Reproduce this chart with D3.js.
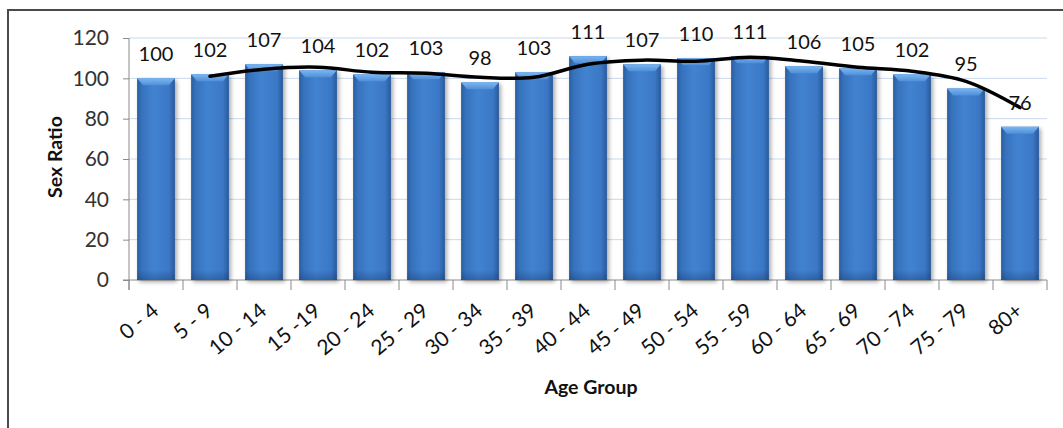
<!DOCTYPE html>
<html>
<head>
<meta charset="utf-8">
<script src="https://cdn.jsdelivr.net/npm/d3@7"></script>
<style>
  body { margin: 0; background: #fff; }
  svg { display: block; }
</style>
</head>
<body>
<svg id="chart" width="1063" height="428"></svg>
<script>
// Sex ratio (males per 100 females) by age group
const ageGroups = ["0 - 4", "5 - 9", "10 - 14", "15 -19", "20 - 24", "25 - 29", "30 - 34", "35 - 39",
  "40 - 44", "45 - 49", "50 - 54", "55 - 59", "60 - 64", "65 - 69", "70 - 74", "75 - 79", "80+"];
const sexRatio = [100, 102, 107, 104, 102, 103, 98, 103, 111, 107, 110, 111, 106, 105, 102, 95, 76];
// 2-period moving average trendline, starting at "5 - 9"
const trendValues = [101, 104.5, 105.5, 103, 102.5, 100.5, 100.5, 107, 109, 108.5, 110.5, 108.5, 105.5, 103.5, 98.5, 85.5];
const yTicks = [0, 20, 40, 60, 80, 100, 120];

const svg = d3.select("#chart");
const font = "Lato, 'Open Sans', sans-serif";

const plot = { left: 129, right: 1047, top: 38, bottom: 280 };

const x = d3.scaleBand().domain(ageGroups).range([plot.left, plot.right]).paddingInner(0.3).paddingOuter(0.15);
const y = d3.scaleLinear().domain([0, 120]).range([plot.bottom, plot.top]);

// outer frame
svg.append("path")
  .attr("d", "M8,428 L8,10 L1063,10")
  .attr("fill", "none").attr("stroke", "#4a4a4a").attr("stroke-width", 2);

// defs: bar gradients and shadow
const defs = svg.append("defs");
const body = defs.append("linearGradient").attr("id", "barBody").attr("x1", 0).attr("x2", 1).attr("y1", 0).attr("y2", 0);
[["0%", "#2a5c9f"], ["12%", "#3672bd"], ["45%", "#4283d1"], ["85%", "#3a77c4"], ["100%", "#29599a"]]
  .forEach(([o, c]) => body.append("stop").attr("offset", o).attr("stop-color", c));
const bev = defs.append("linearGradient").attr("id", "barBevel").attr("x1", 0).attr("x2", 0).attr("y1", 0).attr("y2", 1);
[["0%", "#7cb6f0"], ["100%", "#4f8fd9"]].forEach(([o, c]) => bev.append("stop").attr("offset", o).attr("stop-color", c));
const bottomG = defs.append("linearGradient").attr("id", "barBottom").attr("x1", 0).attr("x2", 0).attr("y1", 0).attr("y2", 1);
[["0%", "rgba(20,50,100,0)"], ["100%", "rgba(20,50,100,0.35)"]].forEach(([o, c]) => bottomG.append("stop").attr("offset", o).attr("stop-color", c));
const shadow = defs.append("filter").attr("id", "shadow").attr("x", "-20%").attr("y", "-20%").attr("width", "150%").attr("height", "150%");
shadow.append("feGaussianBlur").attr("in", "SourceAlpha").attr("stdDeviation", 2).attr("result", "b");
shadow.append("feOffset").attr("in", "b").attr("dx", 2).attr("dy", 2).attr("result", "o");
shadow.append("feComponentTransfer").attr("in", "o").attr("result", "s")
  .append("feFuncA").attr("type", "linear").attr("slope", 0.35);
const merge = shadow.append("feMerge");
merge.append("feMergeNode").attr("in", "s");
merge.append("feMergeNode").attr("in", "SourceGraphic");

// gridlines
svg.append("g").selectAll("line").data(yTicks.filter(d => d > 0)).join("line")
  .attr("x1", plot.left).attr("x2", plot.right)
  .attr("y1", d => y(d)).attr("y2", d => y(d))
  .attr("stroke", "#c9d9ee").attr("stroke-width", 1);

// y axis
const yAxis = svg.append("g").attr("transform", `translate(${plot.left},0)`)
  .call(d3.axisLeft(y).tickValues(yTicks).tickSize(6).tickPadding(14));
yAxis.select(".domain").attr("stroke", "#8a8a8a").attr("d", `M0,${plot.top}V${plot.bottom + 10}`);
yAxis.selectAll(".tick line").attr("stroke", "#8a8a8a");
yAxis.selectAll("text").attr("font-family", font).attr("font-size", 21).attr("fill", "#333");

// x axis line and ticks at band edges
svg.append("line").attr("x1", plot.left - 6).attr("x2", plot.right)
  .attr("y1", plot.bottom).attr("y2", plot.bottom).attr("stroke", "#8a8a8a");
const gap = (x.step() - x.bandwidth()) / 2;
const edges = ageGroups.map(d => x(d) - gap).concat([plot.right]);
svg.append("g").selectAll("line").data(edges).join("line")
  .attr("x1", d => d).attr("x2", d => d)
  .attr("y1", plot.bottom).attr("y2", plot.bottom + 10)
  .attr("stroke", "#8a8a8a");

// bars
const barData = ageGroups.map((g, i) => ({ g, v: sexRatio[i] }));
const bars = svg.append("g").selectAll("g").data(barData).join("g");
bars.append("rect")
  .attr("x", d => x(d.g)).attr("width", x.bandwidth())
  .attr("y", d => y(d.v)).attr("height", d => y(0) - y(d.v))
  .attr("fill", "url(#barBody)").attr("filter", "url(#shadow)");
bars.append("rect")
  .attr("x", d => x(d.g)).attr("width", x.bandwidth())
  .attr("y", d => y(0) - 10).attr("height", 10)
  .attr("fill", "url(#barBottom)");
bars.append("path")
  .attr("d", d => {
    const x0 = x(d.g), w = x.bandwidth(), t = y(d.v), h = 7;
    return `M${x0},${t}L${x0 + w},${t}L${x0 + w - 6},${t + h}L${x0 + 6},${t + h}Z`;
  })
  .attr("fill", "url(#barBevel)");

// moving average trendline
const trend = ageGroups.slice(1).map((g, i) => [x(g) + x.bandwidth() / 2, y(trendValues[i])]);
svg.append("path")
  .attr("d", d3.line().curve(d3.curveCatmullRom.alpha(0.5))(trend))
  .attr("fill", "none").attr("stroke", "#000").attr("stroke-width", 3.5)
  .attr("stroke-linecap", "round");

// value labels
svg.append("g").selectAll("text").data(barData).join("text")
  .attr("x", d => x(d.g) + x.bandwidth() / 2)
  .attr("y", d => y(d.v) - 17)
  .attr("text-anchor", "middle")
  .attr("font-family", font).attr("font-size", 20).attr("fill", "#111")
  .text(d => d.v);

// category labels, rotated
svg.append("g").selectAll("text").data(ageGroups).join("text")
  .attr("transform", d => `translate(${x(d) + x.bandwidth() / 2 + 4},${plot.bottom + 33}) rotate(-40)`)
  .attr("text-anchor", "end")
  .attr("font-family", font).attr("font-size", 21).attr("fill", "#111")
  .text(d => d);

// axis titles
svg.append("text")
  .attr("transform", "translate(62,157) rotate(-90)")
  .attr("text-anchor", "middle")
  .attr("font-family", font).attr("font-weight", "bold").attr("font-size", 19.5).attr("fill", "#111")
  .text("Sex Ratio");
svg.append("text")
  .attr("x", 591).attr("y", 394)
  .attr("text-anchor", "middle")
  .attr("font-family", font).attr("font-weight", "bold").attr("font-size", 19.5).attr("fill", "#111")
  .text("Age Group");
</script>
</body>
</html>
